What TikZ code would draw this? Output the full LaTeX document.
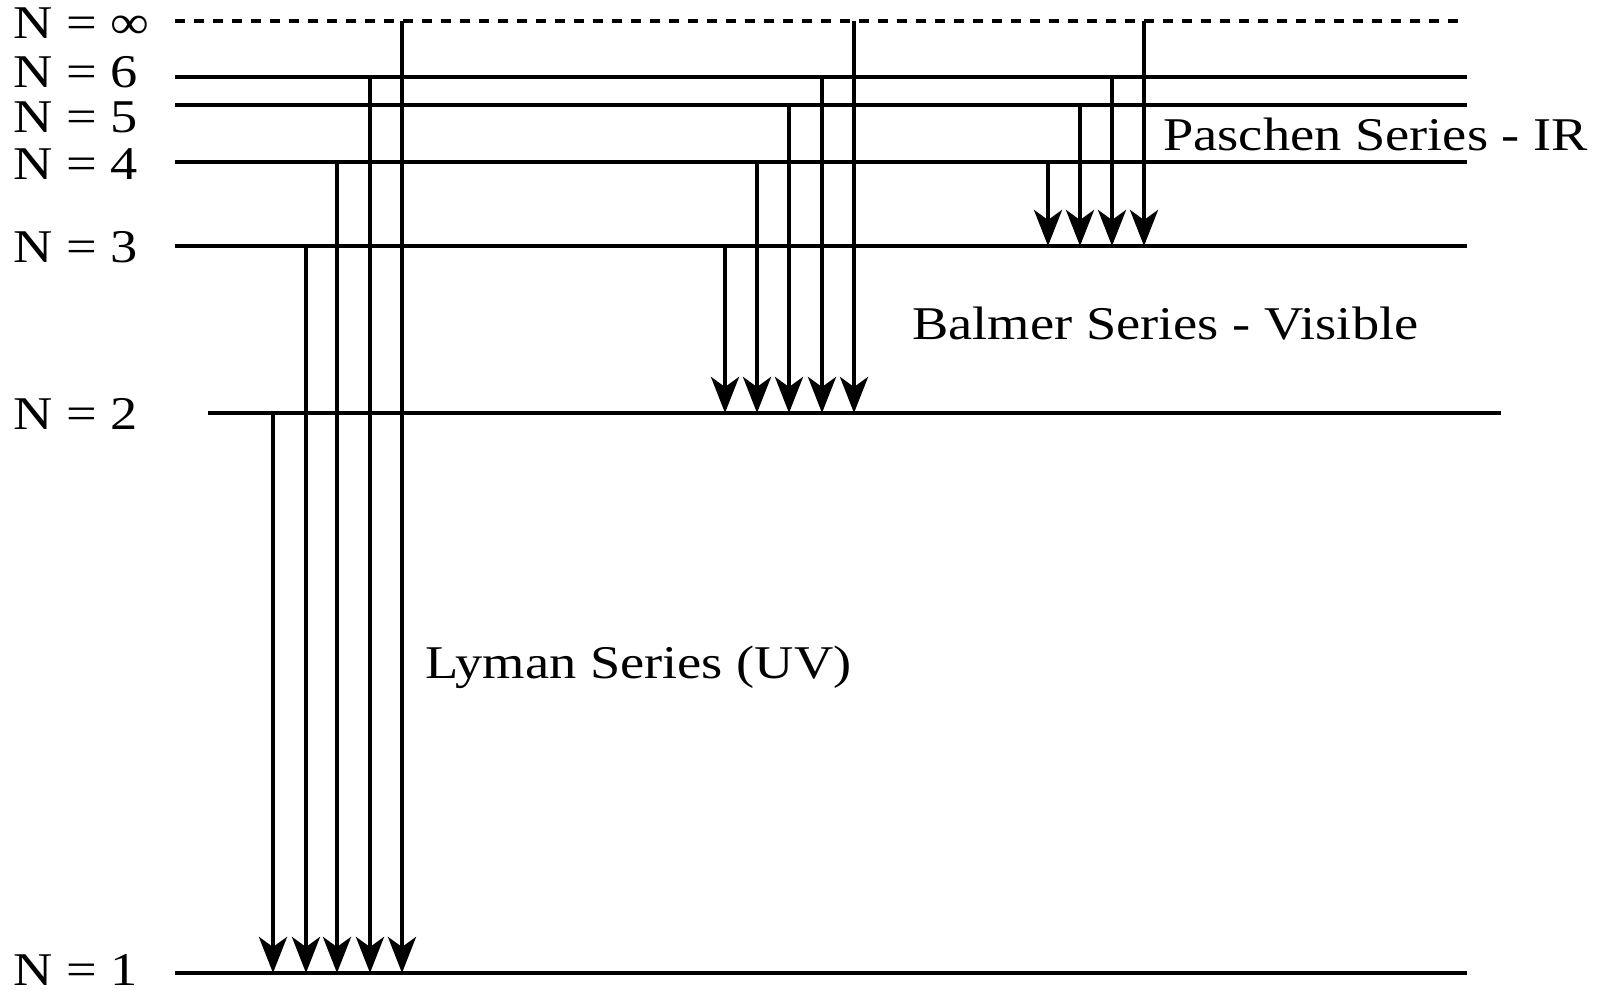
\documentclass[tikz,border=0pt]{standalone}
\usepackage{fontspec}
\setmainfont{Liberation Serif}[FakeStretch=1.16]
\usetikzlibrary{arrows.meta}
\tikzset{
  level/.style={black, line width=0.09cm},
  ilevel/.style={black, line width=0.09cm, dash pattern=on 0.2cm off 0.18cm},
  trans/.style={black, line width=0.09cm, -{Stealth[length=0.72cm, width=0.56cm, inset=0.2cm]}},
  lbl/.style={inner sep=0pt, anchor=base west, font=\fontsize{26.7}{32}\selectfont},
}

\begin{document}
\begin{tikzpicture}
  \useasboundingbox (0,0) rectangle (31.96,19.9);

  % --- energy levels (left ends named) ---
  \draw[ilevel] (3.5,19.48) coordinate (ni) -- (29.26,19.48);
  \draw[level]  (3.5,18.36) coordinate (n6) -- (29.34,18.36);
  \draw[level]  (3.5,17.80) coordinate (n5) -- (29.34,17.80);
  \draw[level]  (3.5,16.66) coordinate (n4) -- (29.34,16.66);
  \draw[level]  (3.5,14.98) coordinate (n3) -- (29.34,14.98);
  \draw[level]  (4.16,11.64) coordinate (n2) -- (30.02,11.64);
  \draw[level]  (3.5,0.44) coordinate (n1) -- (29.34,0.44);

  % --- level labels ---
  \node[lbl] (lni) at (0.26,19.12) {N = ∞};
  \node[lbl] (ln6) at (0.26,18.14) {N = 6};
  \node[lbl] (ln5) at (0.26,17.24) {N = 5};
  \node[lbl] (ln4) at (0.26,16.30) {N = 4};
  \node[lbl] (ln3) at (0.26,14.64) {N = 3};
  \node[lbl] (ln2) at (0.26,11.30) {N = 2};
  \node[lbl] (ln1) at (0.26,0.18) {N = 1};

  % --- Lyman: down to N=1 ---
  \foreach \x/\from in {5.46/n2, 6.12/n3, 6.74/n4, 7.40/n6, 8.04/ni}
    \draw[trans] (\x,0 |- \from) -- (\x,0 |- n1);
  % --- Balmer: down to N=2 ---
  \foreach \x/\from in {14.50/n3, 15.14/n4, 15.78/n5, 16.44/n6, 17.08/ni}
    \draw[trans] (\x,0 |- \from) -- (\x,0 |- n2);
  % --- Paschen: down to N=3 ---
  \foreach \x/\from in {20.96/n4, 21.60/n5, 22.24/n6, 22.88/ni}
    \draw[trans] (\x,0 |- \from) -- (\x,0 |- n3);

  % --- series names ---
  \node[lbl] (lyman) at (8.5,6.32) {Lyman Series (UV)};
  \node[lbl] (balmer) at (18.24,13.10) {Balmer Series - Visible};
  \node[lbl] (paschen) at (23.26,16.88) {Paschen Series - IR};
\end{tikzpicture}
\end{document}
